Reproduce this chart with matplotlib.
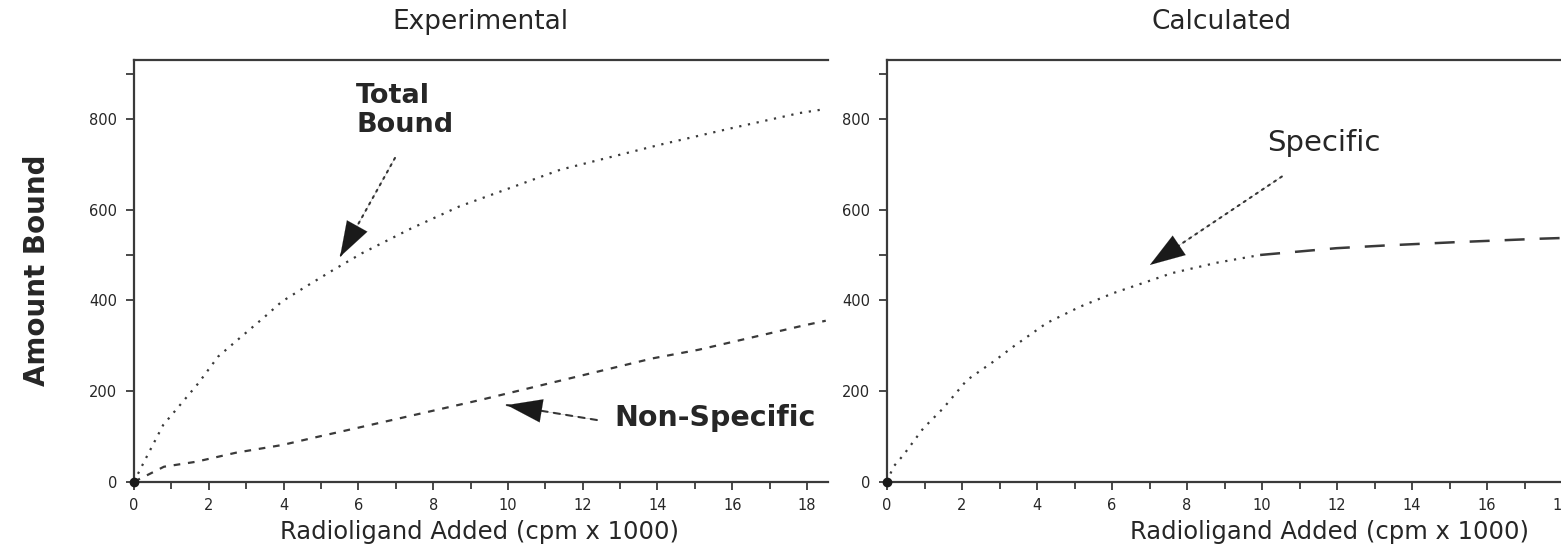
import matplotlib
matplotlib.use("Agg")
import matplotlib.pyplot as plt
from matplotlib.ticker import FixedLocator, MultipleLocator

plt.rcParams['font.family'] = ['DejaVu Sans']

# ---- data ----
total_x = [0, 0.27, 0.78, 1.23, 1.72, 2.25, 2.83, 3.5, 3.95, 4.53, 5.33, 6.1, 7.4, 8.7, 10, 11.4, 12.7, 14.06, 16, 17.8, 18.5]
total_y = [0, 44, 125, 169, 217, 276, 317, 364, 397, 427, 467, 504, 558, 607, 646, 688, 715, 743, 780, 813, 822]

nonspec_x = [0, 0.27, 0.8, 1.66, 2.73, 3.97, 4.86, 6.1, 9.25, 13.87, 15.1, 17.88, 18.5]
nonspec_y = [0, 11, 33, 44, 64, 81, 98, 121, 180, 272, 291, 344, 355]

spec_dot_x = [0, 0.17, 0.44, 0.97, 1.5, 2.13, 2.84, 3.37, 4.26, 5.15, 6.04, 6.93, 7.6, 8.8, 9.95]
spec_dot_y = [0, 33, 59, 118, 162, 224, 265, 298, 350, 386, 416, 441, 460, 483, 500]
spec_dash_x = [9.95, 11.99, 13.3, 15.1, 15.99, 17.45, 18.6]
spec_dash_y = [500, 515, 521, 528, 531, 536, 539]

x_ticks = [0, 2, 4, 6, 8, 10, 12, 14, 16, 18]
x_ticklabels = ['0', '2', '4', '6', '8', '10', '12', '14', '16', '18']
y_ticks = [0, 200, 400, 500, 600, 800, 900]
y_ticklabels = ['0', '200', '400', '', '600', '800', '']

titles = ['Experimental', 'Calculated']
xlabel = 'Radioligand Added (cpm x 1000)'
ylabel = 'Amount Bound'

INK = '#262626'
LINE = '#3a3a3a'

W, H = 1561, 552
fig = plt.figure(figsize=(W / 100, H / 100), dpi=100)

def px_ax(x0, y_top, x1, y_bot):
    return [x0 / W, 1 - y_bot / H, (x1 - x0) / W, (y_bot - y_top) / H]

ax1 = fig.add_axes(px_ax(134, 60, 828, 481.7))
ax2 = fig.add_axes(px_ax(887, 60, 1583, 481.7))

for ax in (ax1, ax2):
    ax.set_xlim(0, 18.56)
    ax.set_ylim(0, 930)
    ax.spines['right'].set_visible(False)
    for s in ('left', 'bottom', 'top'):
        ax.spines[s].set_linewidth(1.6)
        ax.spines[s].set_color(LINE)
    ax.xaxis.set_major_locator(FixedLocator(x_ticks))
    ax.set_xticklabels(x_ticklabels)
    ax.xaxis.set_minor_locator(MultipleLocator(1))
    ax.yaxis.set_major_locator(FixedLocator(y_ticks))
    ax.set_yticklabels(y_ticklabels)
    ax.tick_params(axis='both', which='major', direction='out', length=6, width=1.3,
                   color=LINE, labelsize=10.5, labelcolor=INK, pad=6)
    ax.tick_params(axis='x', which='minor', direction='out', length=5, width=1.3, color=LINE)
    ax.tick_params(axis='y', which='minor', left=False)
    ax.plot([0], [0], marker='o', ms=6, color='#1a1a1a', clip_on=False, zorder=5)

# left panel curves
ax1.plot(total_x, total_y, linestyle=(0, (1, 3)), lw=1.6, color=LINE)
ax1.plot(nonspec_x, nonspec_y, linestyle=(0, (3, 3.5)), lw=1.6, color=LINE)

# right panel curve
ax2.plot(spec_dot_x, spec_dot_y, linestyle=(0, (1, 3)), lw=1.6, color=LINE)
ax2.plot(spec_dash_x, spec_dash_y, linestyle=(0, (8, 6)), lw=1.8, color=LINE)

# annotations
def arrow(ax, tail, tip, shaft_ls):
    ax.annotate('', xy=tip, xytext=tail,
                arrowprops=dict(arrowstyle='-', linestyle=shaft_ls, lw=1.5, color=LINE,
                                shrinkA=0, shrinkB=0))
    ax.annotate('', xy=tip, xytext=tail,
                arrowprops=dict(arrowstyle='-|>,head_length=1.8,head_width=0.6', lw=0.1,
                                color='#1a1a1a', shrinkA=0, shrinkB=0, linestyle='-',
                                mutation_scale=14), zorder=6)

# Total Bound
ax1.text(5.94, 880, 'Total\nBound', fontsize=19.5, fontweight='bold', color=INK,
         ha='left', va='top', linespacing=1.15)
arrow(ax1, (6.98, 714), (5.51, 496), (0, (1, 2.5)))
# Non-Specific
ax1.text(12.86, 140, 'Non-Specific', fontsize=20.5, fontweight='bold', color=INK,
         ha='left', va='center')
arrow(ax1, (12.38, 136), (9.97, 169), (0, (3, 3)))
# Specific
ax2.text(10.13, 747, 'Specific', fontsize=21, color=INK, ha='left', va='center')
arrow(ax2, (10.53, 673), (7.01, 478), (0, (1, 2.5)))

# titles / labels
fig.text(480 / W, 1 - 22 / H, titles[0], fontsize=19, color=INK, ha='center', va='center')
fig.text(1222 / W, 1 - 22 / H, titles[1], fontsize=19, color=INK, ha='center', va='center')
fig.text(480 / W, 1 - 532 / H, xlabel, fontsize=17.5, color=INK, ha='center', va='center')
fig.text(1330 / W, 1 - 532 / H, xlabel, fontsize=17.5, color=INK, ha='center', va='center')
fig.text(37 / W, 1 - 270 / H, ylabel, fontsize=20, fontweight='bold', color=INK,
         ha='center', va='center', rotation=90)

fig.savefig('out.png', dpi=100)
